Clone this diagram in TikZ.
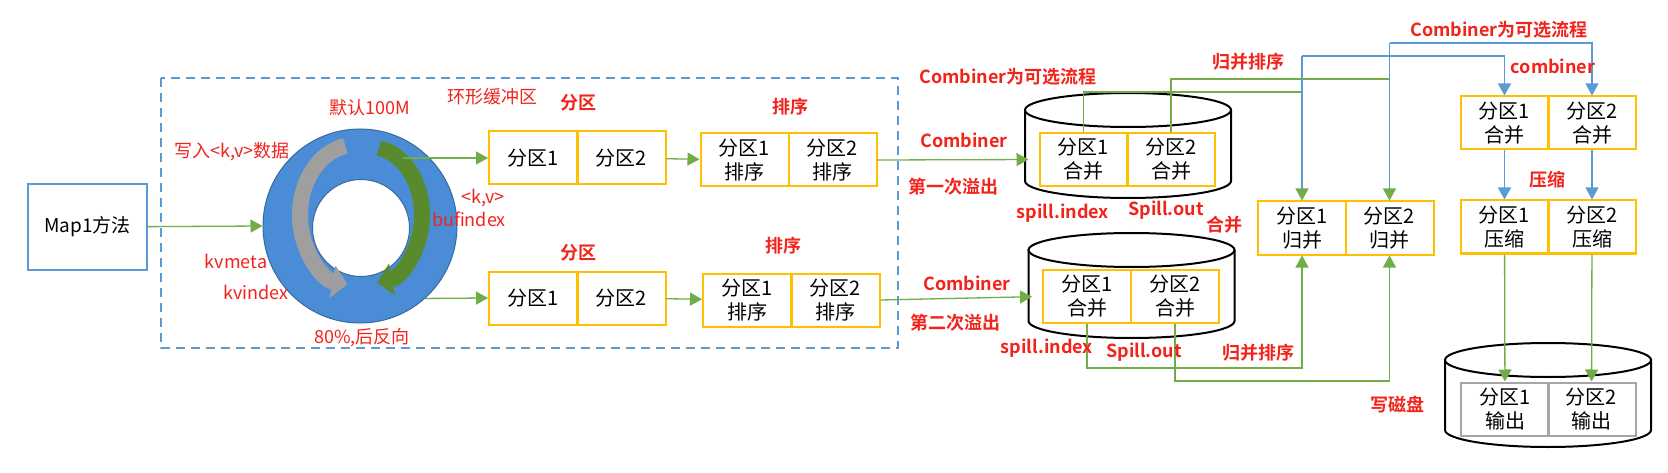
\documentclass[tikz,border=0pt]{standalone}
\usepackage{fontspec}
\setmainfont{Noto Sans CJK SC}[BoldFont={Noto Sans CJK SC Bold}]
\usetikzlibrary{arrows.meta}
\definecolor{boxyellow}{HTML}{FFC000}
\definecolor{lineblue}{HTML}{5B9BD5}
\definecolor{linegreen}{HTML}{70AD47}
\definecolor{ringblue}{HTML}{4A8DD6}
\definecolor{labelred}{HTML}{F2231B}
\definecolor{darkgreen}{HTML}{5A8A2E}
\tikzset{
  gline/.style={linegreen, line width=1.3pt},
  bline/.style={lineblue, line width=1.3pt},
  garrow/.style={gline, -{Triangle[length=12pt,width=13pt]}},
  barrow/.style={bline, -{Triangle[length=12pt,width=13pt]}},
  bgarrow/.style={bline, -{Triangle[length=12pt,width=13pt,color=linegreen]}},
  part/.style={draw=boxyellow, line width=2pt, minimum width=88pt, minimum height=53pt,
    inner sep=0pt, align=center, font=\fontsize{20}{24}\selectfont},
  redlbl/.style={text=labelred, inner sep=0pt, font=\fontsize{18}{20}\selectfont},
  boldlbl/.style={redlbl, font=\fontsize{18}{20}\selectfont\bfseries}
}
\begin{document}
\begin{tikzpicture}[x=1pt,y=-1pt]
    \useasboundingbox[fill=white] (0,0) rectangle (1668,473);
    \draw[lineblue, line width=1.6pt, dash pattern=on 9pt off 6pt] (161,78) rectangle (898,348);
    \node[draw=lineblue, line width=1.5pt, minimum width=119pt, minimum height=86pt,
        font=\fontsize{19}{22}\selectfont] (map) at (87.5,227) {Map1方法};
    \node[circle, fill=ringblue, draw=ringblue!75!black, line width=1pt, minimum size=194pt] (ring) at (360,226) {};
    \node[circle, fill=white, draw=ringblue!75!black, line width=1pt, minimum size=97pt] (hole) at (361,228) {};
    \draw[gray!75, line width=16pt, -{Triangle[length=15pt,width=32pt]}]
        (355,215) ++(100:55pt and 70pt) arc[start angle=100, end angle=262, x radius=55pt, y radius=70pt];
    \draw[darkgreen, line width=16pt, -{Triangle[length=15pt,width=32pt]}]
        (370,215) ++(80:52pt and 68pt) arc[start angle=80, end angle=-82, x radius=52pt, y radius=68pt];
    \coordinate (rt) at (403,158);
    \foreach \cx/\ty/\by in {1128/110/181, 1131.5/250/321, 1548/360/430} {
        \draw[line width=2pt, fill=white] (\cx-103,\ty) -- (\cx-103,\by)
            arc[start angle=180, end angle=360, x radius=103pt, y radius=17pt] -- (\cx+103,\ty);
        \draw[line width=2pt, fill=white] (\cx,\ty) ellipse[x radius=103pt, y radius=17pt];
    }
    \begin{scope}[every node/.style={part}]
        \node (p1a) at (533,158) {分区1};
        \node (p1b) at (621.5,158) {分区2};
        \node (s1a) at (744.5,160) {分区1\\排序};
        \node (s1b) at (832.5,160) {分区2\\排序};
        \node (p2a) at (533,298) {分区1};
        \node (p2b) at (621.5,298) {分区2};
        \node (s2a) at (747,300) {分区1\\排序};
        \node (s2b) at (835.5,300) {分区2\\排序};
        \node (c1a) at (1083.5,159.5) {分区1\\合并};
        \node (c1b) at (1171,159.5) {分区2\\合并};
        \node (c2a) at (1087,296.5) {分区1\\合并};
        \node (c2b) at (1175,296.5) {分区2\\合并};
        \node (ma) at (1302,228) {分区1\\归并};
        \node (mb) at (1389.5,228) {分区2\\归并};
        \node (ca) at (1504.5,123) {分区1\\合并};
        \node (cb) at (1592,123) {分区2\\合并};
        \node (za) at (1504.5,227) {分区1\\压缩};
        \node (zb) at (1592,227) {分区2\\压缩};
        \node[draw=gray!70] (oa) at (1505,409) {分区1\\输出};
        \node[draw=gray!70] (ob) at (1591.5,409) {分区2\\输出};
    \end{scope}
    \coordinate (j1) at (1302,92);
    \coordinate (j2) at (1389.5,79);
    \coordinate (k1) at (1302,56);
    \coordinate (k2) at (1389.5,43);
    \draw[garrow] (map) -- (ring.west);
    \draw[garrow] (rt) -- (p1a.west);
    \draw[garrow] (ring.-48) -- (p2a.west);
    \draw[garrow] (p1b) -- (s1a);
    \draw[garrow] (p2b) -- (s2a);
    \draw[garrow, shorten >=10pt] (s1b.east) -- (c1a.west);
    \draw[garrow, shorten >=10pt] (s2b.east) -- (c2a.west);
    \draw[gline] (c1a.north) |- (j1);
    \draw[gline] (c1b.north) |- (j2);
    \draw[bgarrow] (k1) -- (ma.north);
    \draw[bgarrow] (k2) -- (mb.north);
    \draw[barrow] (k1) -| (ca.north);
    \draw[barrow] (k2) -| (cb.north);
    \draw[garrow] (c2a.south) -- ++(0,44) -| (ma.south);
    \draw[garrow] (c2b.south) -- ++(0,57) -| (mb.south);
    \draw[barrow] (ca) -- (za);
    \draw[barrow] (cb) -- (zb);
    \draw[garrow] (za) -- (oa);
    \draw[garrow] (zb) -- (ob);
    \begin{scope}[every node/.style={redlbl}]
        \node (w1) at (232,152) {写入<k,v>数据};
        \node (w2) at (370,108) {默认100M};
        \node (w3) at (492,97) {环形缓冲区};
        \node (w4) at (483,198) {<k,v>};
        \node (w5) at (469,219) {bufindex};
        \node (w6) at (236,261) {kvmeta};
        \node (w7) at (256,292) {kvindex};
        \node (w8) at (362,338) {80\%,后反向};
    \end{scope}
    \begin{scope}[every node/.style={boldlbl}]
        \node (b1) at (578,103) {分区};
        \node (b2) at (790,107) {排序};
        \node (b3) at (578,253) {分区};
        \node (b4) at (783,246) {排序};
        \node (b5) at (1008,77) {Combiner为可选流程};
        \node (b6) at (964,140) {Combiner};
        \node (b7) at (953,187) {第一次溢出};
        \node (b8) at (967,283) {Combiner};
        \node (b9) at (955,323) {第二次溢出};
        \node (b10) at (1063,213) {spill.index};
        \node (b11) at (1166,210) {Spill.out};
        \node (b12) at (1224,225) {合并};
        \node (b13) at (1047,348) {spill.index};
        \node (b14) at (1144,352) {Spill.out};
        \node (b15) at (1248,62) {归并排序};
        \node (b16) at (1258,353) {归并排序};
        \node (b17) at (1499,30) {Combiner为可选流程};
        \node (b18) at (1553,66) {combiner};
        \node (b19) at (1547,180) {压缩};
        \node (b20) at (1397,405) {写磁盘};
    \end{scope}
\end{tikzpicture}
\end{document}
